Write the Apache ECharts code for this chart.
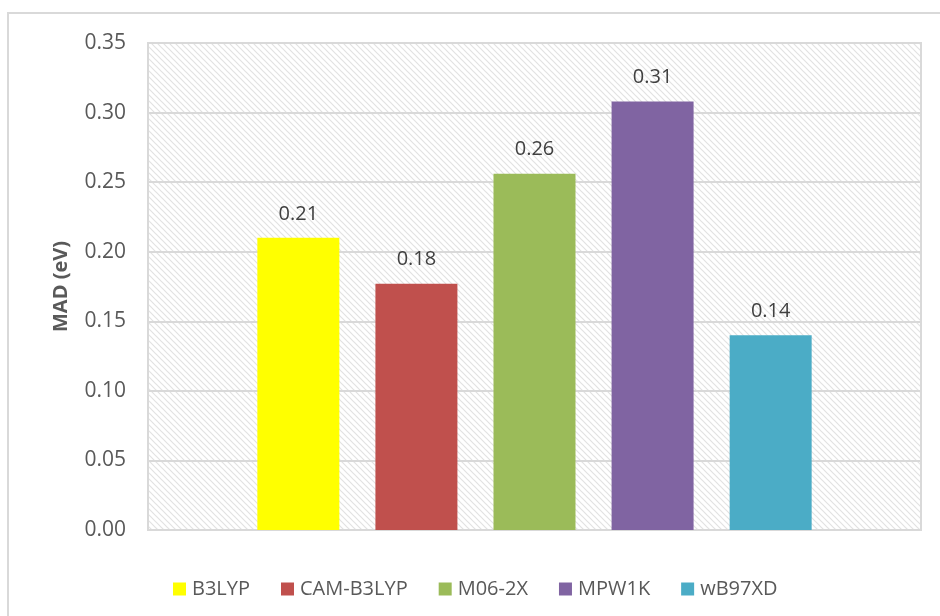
<!DOCTYPE html>
<html>
<head>
<meta charset="utf-8">
<script src="https://cdn.jsdelivr.net/npm/echarts@6/dist/echarts.min.js"></script>
<style>
html,body{margin:0;padding:0;background:#fff;}
#chart{width:940px;height:616px;}
</style>
</head>
<body>
<div id="chart"></div>
<script>
const seriesNames = ['B3LYP', 'CAM-B3LYP', 'M06-2X', 'MPW1K', 'wB97XD'];
const madValues = [0.210, 0.177, 0.256, 0.308, 0.140];
const seriesColors = ['#FFFF00', '#C0504D', '#9BBB59', '#8064A2', '#4BACC6'];
const yTicks = [0, 0.05, 0.10, 0.15, 0.20, 0.25, 0.30, 0.35];
const categories = [''];

// hatch pattern for plot area
const tile = document.createElement('canvas');
tile.width = 6; tile.height = 6;
const ctx = tile.getContext('2d');
ctx.fillStyle = '#ffffff';
ctx.fillRect(0, 0, 6, 6);
ctx.strokeStyle = '#e2e2e2';
ctx.lineWidth = 1.2;
ctx.beginPath();
ctx.moveTo(-1, -1); ctx.lineTo(7, 7);
ctx.moveTo(-7, -1); ctx.lineTo(1, 7);
ctx.moveTo(5, -1); ctx.lineTo(13, 7);
ctx.stroke();

const FONT = '"Open Sans", sans-serif';
const chart = echarts.init(document.getElementById('chart'), null, {renderer: 'canvas'});

chart.setOption({
  backgroundColor: '#ffffff',
  animation: false,
  graphic: [{
    type: 'rect', silent: true, z: -10,
    shape: {x: 8, y: 13, width: 1000, height: 700},
    style: {fill: 'none', stroke: '#d9d9d9', lineWidth: 2}
  }],
  grid: {
    left: 148, right: 19, top: 43, bottom: 86,
    show: true,
    backgroundColor: {image: tile, repeat: 'repeat'},
    borderColor: '#d9d9d9',
    borderWidth: 2
  },
  legend: {
    data: seriesNames,
    left: 168, top: 574,
    icon: 'rect',
    itemWidth: 13, itemHeight: 13,
    itemGap: 31,
    textStyle: {fontFamily: FONT, fontSize: 20, color: '#595959', padding: [0, 0, 0, 1]}
  },
  xAxis: {
    type: 'category',
    data: categories,
    axisLine: {show: true, lineStyle: {color: '#d9d9d9', width: 2}},
    axisTick: {show: false},
    axisLabel: {show: false}
  },
  yAxis: {
    type: 'value',
    min: yTicks[0], max: yTicks[yTicks.length - 1], interval: 0.05,
    name: 'MAD (eV)',
    nameLocation: 'middle',
    nameGap: 77,
    nameTextStyle: {fontFamily: FONT, fontSize: 20, fontWeight: 'bold', color: '#595959'},
    axisLine: {show: false},
    axisTick: {show: false},
    axisLabel: {
      fontFamily: FONT, fontSize: 21, color: '#595959', margin: 22,
      formatter: v => v.toFixed(2)
    },
    splitLine: {lineStyle: {color: '#d9d9d9', width: 2}}
  },
  series: seriesNames.map((name, i) => ({
    name: name,
    type: 'bar',
    data: [madValues[i]],
    barWidth: 82,
    barGap: '44%',
    itemStyle: {color: seriesColors[i]},
    label: {
      show: true, position: 'top', distance: 14,
      fontFamily: FONT, fontSize: 20, color: '#404040',
      formatter: p => p.value.toFixed(2)
    }
  }))
});
</script>
</body>
</html>
